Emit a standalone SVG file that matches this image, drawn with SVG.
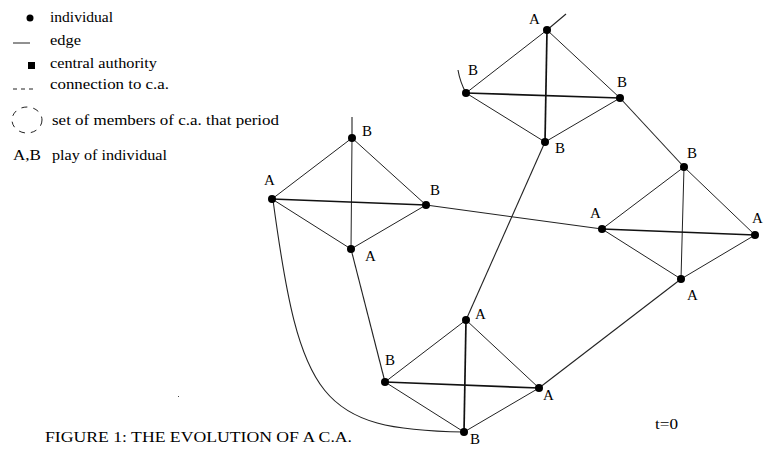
<svg xmlns="http://www.w3.org/2000/svg" width="764" height="451" viewBox="0 0 764 451">
<style>
text{font-family:"Liberation Serif","Times New Roman","DejaVu Serif",serif;font-size:14px;fill:#000}
.lb{font-size:15px}
.e{stroke:#222;stroke-width:1;fill:none}
.d{stroke:#111;stroke-width:1.7;fill:none}
.c{stroke:#222;stroke-width:1.1;fill:none}
.n{fill:#000}
</style>
<rect width="764" height="451" fill="#fff"/>
<g id="legend">
<circle class="n" cx="30" cy="18" r="3.5"/>
<text x="50" y="22" textLength="63" lengthAdjust="spacingAndGlyphs">individual</text>
<line class="e" x1="13" y1="43" x2="30" y2="43"/>
<text x="50" y="45" textLength="31" lengthAdjust="spacingAndGlyphs">edge</text>
<rect x="28" y="62" width="7" height="7" fill="#000"/>
<text x="50" y="68" textLength="107" lengthAdjust="spacingAndGlyphs">central authority</text>
<line class="e" x1="13" y1="89" x2="34" y2="89" stroke-dasharray="4,4"/>
<text x="50" y="89" textLength="119" lengthAdjust="spacingAndGlyphs">connection to c.a.</text>
<ellipse class="e" cx="27" cy="120" rx="15" ry="13" stroke-dasharray="6,6"/>
<text x="52" y="125" textLength="227" lengthAdjust="spacingAndGlyphs">set of members of c.a. that period</text>
<text x="13" y="160" textLength="28" lengthAdjust="spacingAndGlyphs">A,B</text>
<text x="52" y="160" textLength="115" lengthAdjust="spacingAndGlyphs">play of individual</text>
</g>
<g id="connectors">
<line class="c" x1="547" y1="30" x2="566" y2="14"/>
<path class="c" d="M466,93 Q460,82 458,70"/>
<line class="c" x1="352" y1="138" x2="352" y2="117"/>
<line class="c" x1="620" y1="98" x2="684" y2="167"/>
<line class="c" x1="545" y1="142" x2="466" y2="320"/>
<line class="c" x1="426" y1="205" x2="602" y2="229"/>
<line class="c" x1="351" y1="249" x2="385" y2="382"/>
<line class="c" x1="681" y1="279" x2="539" y2="388"/>
<path class="c" d="M273,200 C300,400 320,430 464,432"/>
</g>
<g id="cluster-top">
<line class="e" x1="547" y1="30" x2="466" y2="93"/>
<line class="e" x1="547" y1="30" x2="620" y2="98"/>
<line class="e" x1="466" y1="93" x2="545" y2="142"/>
<line class="e" x1="620" y1="98" x2="545" y2="142"/>
<line class="d" x1="547" y1="30" x2="545" y2="142"/>
<line class="d" x1="466" y1="93" x2="620" y2="98"/>
<g id="t-a"><circle class="n" cx="547" cy="30" r="4"/><text class="lb" x="529" y="24">A</text></g>
<g id="t-bl"><circle class="n" cx="466" cy="93" r="4"/><text class="lb" x="468" y="75">B</text></g>
<g id="t-br"><circle class="n" cx="620" cy="98" r="4"/><text class="lb" x="617" y="87">B</text></g>
<g id="t-bb"><circle class="n" cx="545" cy="142" r="4"/><text class="lb" x="555" y="153">B</text></g>
</g>
<g id="cluster-left">
<line class="e" x1="352" y1="138" x2="272" y2="199"/>
<line class="e" x1="352" y1="138" x2="426" y2="205"/>
<line class="e" x1="272" y1="199" x2="351" y2="249"/>
<line class="e" x1="426" y1="205" x2="351" y2="249"/>
<line class="e" x1="352" y1="138" x2="351" y2="249"/>
<line class="d" x1="272" y1="199" x2="426" y2="205"/>
<g id="l-bt"><circle class="n" cx="352" cy="138" r="4"/><text class="lb" x="362" y="136">B</text></g>
<g id="l-al"><circle class="n" cx="272" cy="199" r="4"/><text class="lb" x="264" y="185">A</text></g>
<g id="l-br"><circle class="n" cx="426" cy="205" r="4"/><text class="lb" x="430" y="195">B</text></g>
<g id="l-ab"><circle class="n" cx="351" cy="249" r="4"/><text class="lb" x="365" y="261">A</text></g>
</g>
<g id="cluster-right">
<line class="e" x1="684" y1="167" x2="602" y2="229"/>
<line class="e" x1="684" y1="167" x2="755" y2="235"/>
<line class="e" x1="602" y1="229" x2="681" y2="279"/>
<line class="e" x1="755" y1="235" x2="681" y2="279"/>
<line class="e" x1="684" y1="167" x2="681" y2="279" stroke="#666"/>
<line class="d" x1="602" y1="229" x2="755" y2="235"/>
<g id="r-bt"><circle class="n" cx="684" cy="167" r="4"/><text class="lb" x="687" y="158">B</text></g>
<g id="r-al"><circle class="n" cx="602" cy="229" r="4"/><text class="lb" x="590" y="218">A</text></g>
<g id="r-ar"><circle class="n" cx="755" cy="235" r="4"/><text class="lb" x="752" y="223">A</text></g>
<g id="r-ab"><circle class="n" cx="681" cy="279" r="4"/><text class="lb" x="687" y="300">A</text></g>
</g>
<g id="cluster-bottom">
<line class="e" x1="466" y1="320" x2="385" y2="382"/>
<line class="e" x1="466" y1="320" x2="539" y2="388"/>
<line class="e" x1="385" y1="382" x2="464" y2="432"/>
<line class="e" x1="539" y1="388" x2="464" y2="432"/>
<line class="d" x1="466" y1="320" x2="464" y2="432"/>
<line class="d" x1="385" y1="382" x2="539" y2="388"/>
<g id="b-at"><circle class="n" cx="466" cy="320" r="4"/><text class="lb" x="475" y="319">A</text></g>
<g id="b-bl"><circle class="n" cx="385" cy="382" r="4"/><text class="lb" x="385" y="365">B</text></g>
<g id="b-ar"><circle class="n" cx="539" cy="388" r="4"/><text class="lb" x="543" y="400">A</text></g>
<g id="b-bb"><circle class="n" cx="464" cy="432" r="4"/><text class="lb" x="470" y="444">B</text></g>
</g>
<rect x="178" y="396" width="1" height="1" fill="#444"/>
<text x="655" y="429" textLength="23" lengthAdjust="spacingAndGlyphs">t=0</text>
<text x="45" y="442" textLength="307" lengthAdjust="spacingAndGlyphs">FIGURE 1: THE EVOLUTION OF A C.A.</text>
</svg>
